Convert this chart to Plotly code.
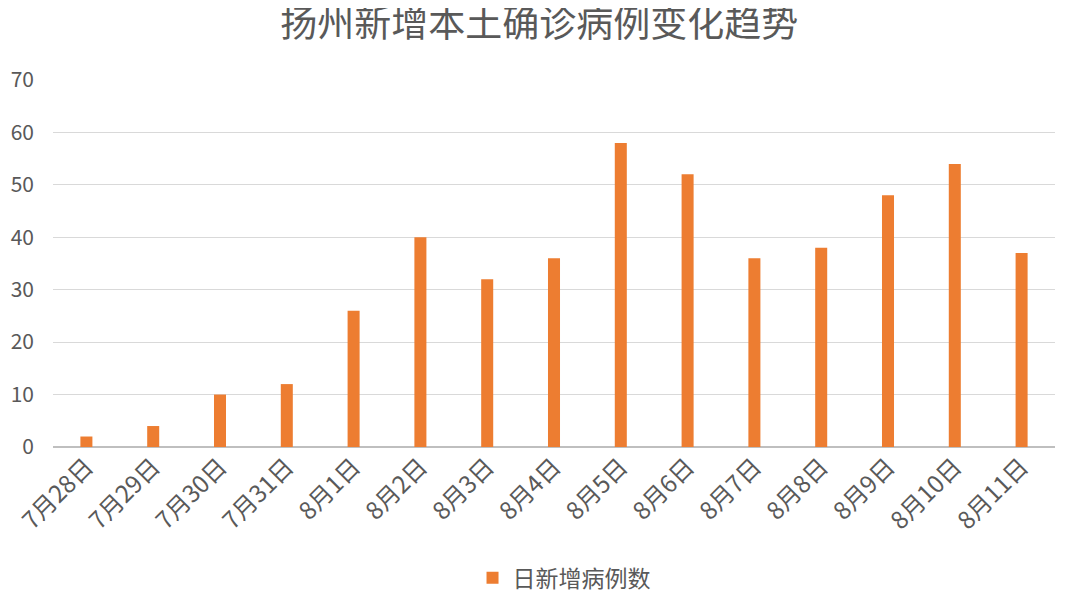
import plotly.graph_objects as go

dates = ["7月28日", "7月29日", "7月30日", "7月31日", "8月1日", "8月2日", "8月3日",
         "8月4日", "8月5日", "8月6日", "8月7日", "8月8日", "8月9日", "8月10日", "8月11日"]
new_cases = [2, 4, 10, 12, 26, 40, 32, 36, 58, 52, 36, 38, 48, 54, 37]
series_name = "日新增病例数"
title_text = "扬州新增本土确诊病例变化趋势"

FONT = "Noto Sans CJK SC"
GRAY = "#595959"

fig = go.Figure()
fig.add_trace(go.Bar(
    x=dates, y=new_cases, name=series_name,
    marker=dict(color="#ED7D31", line=dict(width=0)),
    showlegend=True,
))

fig.update_layout(
    width=1080, height=608,
    paper_bgcolor="white", plot_bgcolor="white",
    margin=dict(l=45, r=33, t=72, b=169, autoexpand=False),
    bargap=0.82,
    font=dict(family=FONT, color=GRAY),
    title=dict(text=title_text, x=0.492, xanchor="center", y=0.973, yanchor="middle",
               yref="container", font=dict(size=37, color=GRAY, family=FONT)),
    showlegend=True,
    legend=dict(orientation="h", x=0.51, xanchor="center", y=0.063, yanchor="middle",
                yref="container", font=dict(size=23, color=GRAY, family=FONT),
                itemwidth=30),
    xaxis=dict(tickangle=-45, tickfont=dict(size=24, color=GRAY, family=FONT),
               showgrid=False, showline=False, ticks="", zeroline=False, automargin=False),
    yaxis=dict(range=[0, 70], dtick=10, tickfont=dict(size=21, color=GRAY, family=FONT),
               showgrid=True, gridcolor="#D9D9D9", gridwidth=1.2,
               zeroline=True, zerolinecolor="#BFBFBF", zerolinewidth=1.5,
               showline=False, ticks="", ticklabelstandoff=18, automargin=False),
)

fig.write_html("out.html")
